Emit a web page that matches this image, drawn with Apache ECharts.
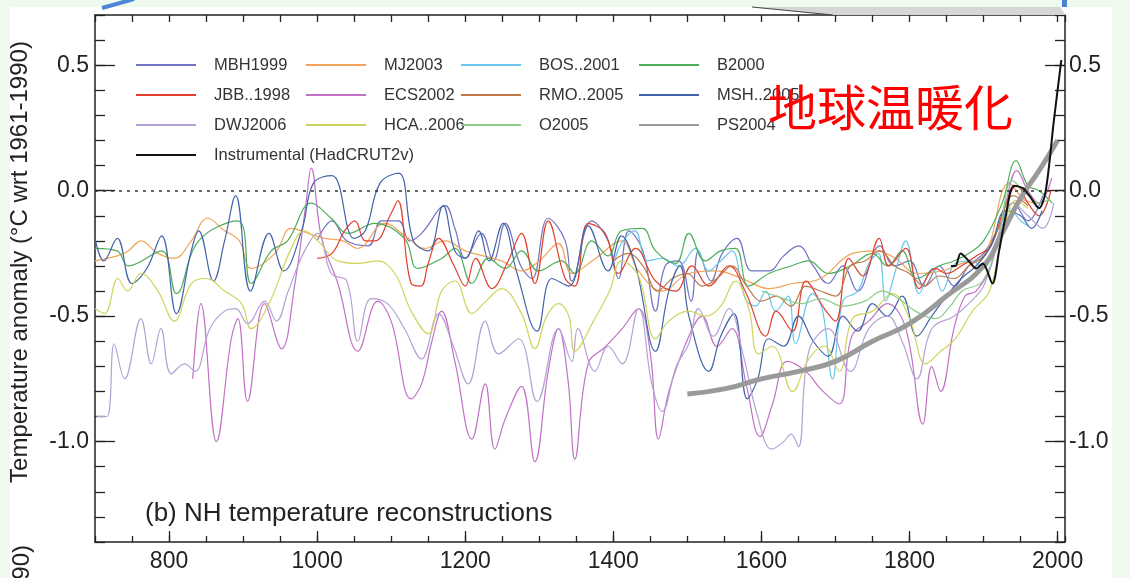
<!DOCTYPE html>
<html>
<head>
<meta charset="utf-8">
<title>NH temperature reconstructions</title>
<script src="https://cdn.jsdelivr.net/npm/echarts@6/dist/echarts.min.js"></script>
<style>
  html, body { margin: 0; padding: 0; background: #eefaee; }
  #paper { position: absolute; left: 10px; top: 7px; width: 1102px; height: 571px; background: #fff; }
  #chart { position: absolute; left: 0; top: 0; width: 1130px; height: 578px; }
</style>
</head>
<body>
<div id="paper"></div>
<div id="chart"></div>
<script>
// ---- data: [year, anomaly degC wrt 1961-1990] ----
const majorYears = [800, 1000, 1200, 1400, 1600, 1800, 2000]
const majorTemps = [-1.0, -0.5, 0.0, 0.5]

const mbh1999 = [[1000,-0.2],[1020,-0.12],[1040,-0.2],[1069,-0.22],[1087,-0.12],[1110,-0.12],[1125,-0.2],[1141,-0.17],[1173,-0.06],[1186,-0.15],[1200,-0.27],[1222,-0.17],[1238,-0.28],[1254,-0.13],[1275,-0.3],[1290,-0.35],[1312,-0.11],[1335,-0.2],[1344,-0.36],[1371,-0.12],[1393,-0.2],[1407,-0.35],[1421,-0.16],[1440,-0.24],[1457,-0.48],[1470,-0.3],[1488,-0.28],[1505,-0.44],[1515,-0.24],[1532,-0.36],[1547,-0.25],[1567,-0.19],[1587,-0.32],[1610,-0.32],[1630,-0.26],[1650,-0.22],[1670,-0.3],[1690,-0.37],[1710,-0.3],[1730,-0.4],[1760,-0.22],[1780,-0.3],[1800,-0.28],[1820,-0.38],[1840,-0.3],[1860,-0.38],[1880,-0.3],[1900,-0.25],[1920,-0.15],[1940,-0.05],[1960,-0.12],[1980,-0.02]]

const mj2003 = [[700,-0.28],[730,-0.26],[745,-0.24],[762,-0.2],[785,-0.25],[807,-0.27],[830,-0.2],[852,-0.11],[875,-0.16],[895,-0.2],[911,-0.31],[943,-0.25],[965,-0.15],[988,-0.17],[1010,-0.19],[1035,-0.2],[1055,-0.23],[1091,-0.13],[1123,-0.19],[1145,-0.23],[1173,-0.2],[1200,-0.24],[1249,-0.28],[1276,-0.32],[1300,-0.28],[1326,-0.21],[1344,-0.33],[1376,-0.27],[1411,-0.2],[1434,-0.32],[1466,-0.4],[1502,-0.33],[1538,-0.32],[1574,-0.35],[1610,-0.39],[1642,-0.37],[1680,-0.35],[1723,-0.25],[1754,-0.24],[1781,-0.27],[1810,-0.33],[1844,-0.32],[1871,-0.29],[1899,-0.27],[1935,0.03],[1957,-0.04],[1980,-0.05]]

const bos2001 = [[1402,-0.28],[1411,-0.21],[1429,-0.16],[1446,-0.28],[1466,-0.27],[1488,-0.3],[1511,-0.23],[1529,-0.32],[1545,-0.28],[1560,-0.24],[1578,-0.43],[1592,-0.46],[1606,-0.4],[1619,-0.48],[1636,-0.42],[1646,-0.61],[1669,-0.41],[1682,-0.47],[1696,-0.75],[1710,-0.44],[1730,-0.4],[1745,-0.29],[1758,-0.25],[1768,-0.44],[1781,-0.32],[1795,-0.2],[1813,-0.41],[1831,-0.31],[1844,-0.4],[1862,-0.29],[1885,-0.28],[1899,-0.31],[1917,-0.2],[1935,-0.07],[1950,-0.12],[1960,-0.14]]

const b2000 = [[700,-0.23],[730,-0.24],[745,-0.3],[790,-0.24],[810,-0.41],[840,-0.2],[893,-0.12],[911,-0.37],[938,-0.24],[960,-0.2],[992,-0.05],[1019,-0.11],[1042,-0.17],[1078,-0.13],[1118,-0.19],[1136,-0.31],[1168,-0.27],[1186,-0.23],[1209,-0.37],[1231,-0.27],[1254,-0.31],[1276,-0.24],[1299,-0.32],[1330,-0.28],[1348,-0.33],[1371,-0.2],[1393,-0.26],[1411,-0.16],[1439,-0.15],[1457,-0.24],[1484,-0.29],[1502,-0.17],[1524,-0.28],[1545,-0.24],[1565,-0.23],[1583,-0.38],[1610,-0.33],[1640,-0.3],[1664,-0.28],[1690,-0.33],[1720,-0.3],[1750,-0.25],[1770,-0.3],[1790,-0.24],[1810,-0.35],[1840,-0.3],[1860,-0.28],[1880,-0.25],[1900,-0.2],[1925,-0.05],[1944,0.12],[1960,0.02],[1975,0.0],[1993,-0.05]]

const jbb1998 = [[1000,-0.27],[1020,-0.25],[1037,-0.16],[1051,-0.12],[1065,-0.2],[1078,-0.2],[1100,-0.09],[1109,-0.04],[1127,-0.37],[1140,-0.38],[1150,-0.29],[1164,-0.19],[1185,-0.3],[1200,-0.38],[1214,-0.27],[1236,-0.39],[1258,-0.28],[1276,-0.17],[1294,-0.37],[1312,-0.12],[1335,-0.35],[1348,-0.38],[1366,-0.13],[1389,-0.17],[1407,-0.33],[1430,-0.23],[1457,-0.36],[1484,-0.4],[1506,-0.3],[1529,-0.38],[1556,-0.3],[1578,-0.4],[1606,-0.58],[1620,-0.48],[1642,-0.56],[1660,-0.36],[1685,-0.47],[1700,-0.52],[1718,-0.27],[1737,-0.34],[1759,-0.19],[1772,-0.3],[1795,-0.23],[1813,-0.39],[1835,-0.31],[1850,-0.33],[1870,-0.3],[1890,-0.26],[1910,-0.22],[1930,-0.05],[1945,0.02],[1960,-0.05],[1975,-0.1],[1991,0.0]]

const ecs2002 = [[832,-0.75],[843,-0.45],[864,-1.0],[884,-0.59],[893,-0.51],[906,-0.84],[929,-0.45],[952,-0.63],[970,-0.37],[985,-0.05],[992,0.09],[1006,-0.19],[1028,-0.37],[1055,-0.64],[1082,-0.44],[1100,-0.52],[1127,-0.83],[1141,-0.77],[1155,-0.6],[1168,-0.48],[1186,-0.68],[1209,-0.99],[1227,-0.77],[1240,-1.03],[1254,-0.91],[1276,-0.78],[1294,-1.08],[1312,-0.72],[1326,-0.55],[1339,-0.76],[1348,-1.07],[1366,-0.69],[1390,-0.62],[1412,-0.55],[1434,-0.47],[1450,-0.65],[1461,-0.99],[1475,-0.8],[1502,-0.58],[1520,-0.5],[1540,-0.62],[1560,-0.55],[1580,-0.78],[1598,-0.98],[1615,-0.85],[1635,-0.68],[1660,-0.72],[1680,-0.79],[1705,-0.85],[1722,-0.58],[1745,-0.52],[1770,-0.45],[1795,-0.55],[1818,-0.93],[1830,-0.7],[1842,-0.8],[1860,-0.55],[1875,-0.42],[1890,-0.4],[1910,-0.3],[1930,-0.05],[1945,0.08],[1960,0.0],[1975,-0.05],[1992,0.05]]

const rmo2005 = [[1400,-0.28],[1420,-0.25],[1440,-0.3],[1460,-0.4],[1480,-0.35],[1500,-0.33],[1520,-0.38],[1540,-0.35],[1560,-0.3],[1580,-0.38],[1600,-0.44],[1620,-0.42],[1640,-0.46],[1660,-0.38],[1680,-0.4],[1700,-0.42],[1720,-0.3],[1740,-0.28],[1760,-0.24],[1780,-0.3],[1800,-0.33],[1820,-0.38],[1840,-0.34],[1860,-0.35],[1880,-0.3],[1900,-0.26],[1920,-0.15],[1940,-0.02],[1960,-0.06]]

const msh2005 = [[700,-0.19],[712,-0.28],[730,-0.19],[750,-0.37],[770,-0.31],[790,-0.18],[810,-0.49],[830,-0.24],[840,-0.16],[860,-0.36],[875,-0.2],[890,-0.02],[910,-0.4],[935,-0.17],[955,-0.32],[980,-0.15],[995,0.03],[1020,0.06],[1050,-0.19],[1065,-0.16],[1085,0.03],[1110,0.07],[1130,-0.2],[1150,-0.24],[1170,-0.06],[1186,-0.24],[1200,-0.27],[1218,-0.16],[1232,-0.28],[1251,-0.13],[1270,-0.33],[1297,-0.56],[1317,-0.35],[1340,-0.38],[1366,-0.14],[1393,-0.32],[1411,-0.18],[1430,-0.3],[1457,-0.64],[1475,-0.4],[1490,-0.3],[1502,-0.5],[1529,-0.72],[1545,-0.58],[1563,-0.49],[1581,-0.83],[1595,-0.75],[1610,-0.59],[1630,-0.62],[1650,-0.5],[1670,-0.6],[1690,-0.66],[1710,-0.5],[1730,-0.56],[1750,-0.45],[1770,-0.5],[1790,-0.42],[1810,-0.58],[1830,-0.5],[1850,-0.42],[1870,-0.35],[1890,-0.3],[1910,-0.22],[1930,-0.08],[1950,-0.1],[1965,-0.15],[1979,-0.08]]

const dwj2006 = [[702,-0.9],[716,-0.9],[726,-0.61],[740,-0.75],[762,-0.51],[776,-0.69],[789,-0.55],[803,-0.73],[821,-0.69],[835,-0.72],[855,-0.55],[875,-0.48],[890,-0.47],[906,-0.53],[929,-0.44],[945,-0.52],[961,-0.4],[983,-0.24],[1001,-0.17],[1019,-0.33],[1040,-0.36],[1055,-0.6],[1073,-0.43],[1095,-0.45],[1118,-0.55],[1141,-0.67],[1164,-0.49],[1184,-0.62],[1204,-0.77],[1227,-0.52],[1245,-0.65],[1272,-0.59],[1297,-0.84],[1326,-0.55],[1344,-0.68],[1352,-0.55],[1375,-0.72],[1393,-0.62],[1412,-0.69],[1434,-0.47],[1452,-0.77],[1466,-0.88],[1485,-0.7],[1502,-0.61],[1515,-0.47],[1535,-0.58],[1556,-0.47],[1575,-0.65],[1595,-0.9],[1614,-1.03],[1630,-1.0],[1640,-0.97],[1650,-1.02],[1664,-0.64],[1690,-0.55],[1720,-0.72],[1745,-0.55],[1770,-0.5],[1790,-0.6],[1810,-0.75],[1830,-0.55],[1860,-0.5],[1880,-0.45],[1900,-0.38],[1920,-0.2],[1940,-0.05],[1960,-0.1],[1980,-0.15],[1995,-0.05]]

const hca2006 = [[700,-0.47],[713,-0.49],[731,-0.35],[744,-0.4],[762,-0.33],[785,-0.4],[807,-0.52],[830,-0.37],[850,-0.35],[875,-0.4],[898,-0.45],[911,-0.55],[935,-0.45],[965,-0.23],[983,-0.16],[1001,-0.2],[1028,-0.28],[1055,-0.29],[1082,-0.28],[1105,-0.33],[1127,-0.48],[1150,-0.57],[1168,-0.4],[1186,-0.36],[1209,-0.49],[1228,-0.44],[1249,-0.39],[1276,-0.49],[1294,-0.63],[1310,-0.5],[1326,-0.45],[1340,-0.5],[1348,-0.64],[1375,-0.51],[1395,-0.4],[1411,-0.28],[1434,-0.34],[1457,-0.59],[1475,-0.52],[1502,-0.48],[1524,-0.5],[1545,-0.46],[1565,-0.36],[1583,-0.47],[1596,-0.65],[1615,-0.62],[1642,-0.8],[1664,-0.67],[1685,-0.62],[1705,-0.72],[1723,-0.51],[1750,-0.48],[1777,-0.41],[1800,-0.51],[1822,-0.69],[1842,-0.64],[1862,-0.59],[1885,-0.48],[1908,-0.4],[1926,-0.17],[1944,-0.04],[1960,-0.07]]

const o2005 = [[1600,-0.4],[1630,-0.43],[1655,-0.45],[1680,-0.43],[1709,-0.46],[1740,-0.44],[1763,-0.4],[1785,-0.43],[1808,-0.48],[1835,-0.51],[1855,-0.46],[1871,-0.4],[1899,-0.36],[1921,-0.17],[1939,0.04],[1957,-0.01],[1975,-0.05],[1990,-0.03]]

const ps2004 = [[1500,-0.81],[1550,-0.79],[1600,-0.75],[1650,-0.72],[1700,-0.68],[1750,-0.6],[1800,-0.53],[1850,-0.42],[1900,-0.3],[1925,-0.17],[1950,-0.03],[1975,0.08],[2000,0.2]]

const hadcrut2v = [[1856,-0.3],[1862,-0.3],[1869,-0.25],[1880,-0.28],[1890,-0.31],[1899,-0.29],[1912,-0.37],[1921,-0.24],[1930,-0.1],[1941,0.02],[1953,0.01],[1962,-0.02],[1975,-0.07],[1984,0.0],[1995,0.28],[2005,0.52]]

// ---- styling ----
const font = '"Liberation Sans", Arial, Helvetica, sans-serif'
const ink = '#222'

const reconstructions = [
  { name: 'MBH1999', data: mbh1999, color: '#6f74c4' },
  { name: 'MJ2003', data: mj2003, color: '#f2a458' },
  { name: 'BOS..2001', data: bos2001, color: '#6cc6ea' },
  { name: 'B2000', data: b2000, color: '#4fae5c' },
  { name: 'JBB..1998', data: jbb1998, color: '#e0402e' },
  { name: 'ECS2002', data: ecs2002, color: '#c272c6' },
  { name: 'RMO..2005', data: rmo2005, color: '#c07a48' },
  { name: 'MSH..2005', data: msh2005, color: '#4264a8' },
  { name: 'DWJ2006', data: dwj2006, color: '#b4a2d6' },
  { name: 'HCA..2006', data: hca2006, color: '#cfd45c' },
  { name: 'O2005', data: o2005, color: '#88cc8a' }
]

const series = reconstructions.map(r => ({
  name: r.name,
  type: 'line',
  data: r.data,
  symbol: 'none',
  smooth: 0.4,
  color: r.color,
  lineStyle: { width: 1.2, color: r.color }
}))

series.push({
  name: 'PS2004',
  type: 'line',
  data: ps2004,
  symbol: 'none',
  smooth: true,
  color: '#9a9a9a',
  lineStyle: { width: 5, color: '#9a9a9a' },
  z: 3
})

series.push({
  name: 'Instrumental (HadCRUT2v)',
  type: 'line',
  data: hadcrut2v,
  symbol: 'none',
  smooth: 0.3,
  color: '#111',
  lineStyle: { width: 2, color: '#111' },
  z: 4
})

// dotted zero line
series[0].markLine = {
  silent: true,
  symbol: 'none',
  label: { show: false },
  lineStyle: { color: '#333', width: 1.6, type: [3, 5] },
  data: [{ yAxis: 0 }]
}

const axisLine = { show: true, onZero: false, lineStyle: { color: ink, width: 1.5 } }
const noLine = { show: false, onZero: false }
const tickStyle = { color: ink, width: 1.3 }

function xAxis(extra) {
  return Object.assign({
    type: 'value', min: 700, max: 2010, interval: 50,
    splitLine: { show: false }
  }, extra)
}

function yAxis(extra) {
  return Object.assign({
    type: 'value', min: -1.4, max: 0.7, interval: 0.1,
    splitLine: { show: false }
  }, extra)
}

const legendCommon = {
  orient: 'vertical',
  padding: 0,
  itemWidth: 60,
  itemHeight: 14,
  itemGap: 12,
  selectedMode: false,
  itemStyle: { opacity: 0 },
  textStyle: { fontFamily: font, fontSize: 16.5, color: '#333', lineHeight: 18, padding: [0, 0, 0, 13] }
}

const option = {
  animation: false,
  grid: { left: 95, right: 65, top: 15, bottom: 36 },
  title: {
    text: '(b) NH temperature reconstructions',
    left: 140,
    top: 496,
    textStyle: { fontFamily: font, fontSize: 26, fontWeight: 'normal', color: ink }
  },
  legend: [
    Object.assign({ left: 135, top: 56, data: ['MBH1999', 'JBB..1998', 'DWJ2006', 'Instrumental (HadCRUT2v)'] }, legendCommon),
    Object.assign({ left: 305, top: 56, data: ['MJ2003', 'ECS2002', 'HCA..2006'] }, legendCommon),
    Object.assign({ left: 460, top: 56, data: ['BOS..2001', 'RMO..2005', 'O2005'] }, legendCommon),
    Object.assign({ left: 638, top: 56, data: ['B2000', 'MSH..2005', 'PS2004'] }, legendCommon)
  ],
  xAxis: [
    xAxis({
      position: 'bottom',
      axisLine: axisLine,
      axisTick: { inside: true, length: 6, lineStyle: tickStyle },
      axisLabel: {
        customValues: majorYears, margin: 8,
        formatter: v => String(v),
        fontFamily: font, fontSize: 23, color: ink
      }
    }),
    xAxis({
      position: 'bottom',
      axisLine: noLine,
      axisTick: { inside: true, length: 11, lineStyle: tickStyle, customValues: majorYears },
      axisLabel: { show: false }
    }),
    xAxis({
      position: 'top',
      axisLine: axisLine,
      axisTick: { inside: true, length: 7, lineStyle: tickStyle },
      axisLabel: { show: false }
    })
  ],
  yAxis: [
    yAxis({
      position: 'left',
      axisLine: axisLine,
      axisTick: { inside: true, length: 10, lineStyle: tickStyle },
      axisLabel: {
        customValues: majorTemps, margin: 6,
        formatter: v => v.toFixed(1),
        fontFamily: font, fontSize: 23, color: ink
      }
    }),
    yAxis({
      position: 'left',
      axisLine: noLine,
      axisTick: { inside: true, length: 20, lineStyle: tickStyle, customValues: majorTemps },
      axisLabel: { show: false }
    }),
    yAxis({
      position: 'right',
      axisLine: axisLine,
      axisTick: { inside: true, length: 10, lineStyle: tickStyle },
      axisLabel: {
        customValues: majorTemps, margin: 4,
        formatter: v => v.toFixed(1),
        fontFamily: font, fontSize: 23, color: ink
      }
    }),
    yAxis({
      position: 'right',
      axisLine: noLine,
      axisTick: { inside: true, length: 20, lineStyle: tickStyle, customValues: majorTemps },
      axisLabel: { show: false }
    })
  ],
  graphic: [
    // axis title, rotated
    {
      type: 'text', x: 20, y: 262, rotation: Math.PI / 2,
      style: {
        text: 'Temperature anomaly (\u00b0C wrt 1961-1990)',
        fontFamily: font, fontSize: 24, fill: ink,
        align: 'center', verticalAlign: 'middle'
      }
    },
    // tail of the neighbouring panel's axis title
    {
      type: 'text', x: 22, y: 545, rotation: Math.PI / 2,
      style: {
        text: 'wrt 1961-1990)',
        fontFamily: font, fontSize: 24, fill: ink,
        align: 'right', verticalAlign: 'middle'
      }
    },
    // slide decorations along the top edge
    { type: 'polygon', shape: { points: [[752, 7], [1060, 7], [1066, 15], [833, 15]] }, style: { fill: '#d6d6d6' }, z: 5 },
    { type: 'line', shape: { x1: 752, y1: 7, x2: 833, y2: 15 }, style: { stroke: '#444', lineWidth: 1.2 }, z: 6 },
    { type: 'rect', shape: { x: 1062, y: 0, width: 5, height: 7 }, style: { fill: '#4a82d4' }, z: 6 },
    { type: 'line', shape: { x1: 102, y1: 8, x2: 134, y2: -1 }, style: { stroke: '#4f87d6', lineWidth: 4 }, z: 6 },
    // red caption
    {
      type: 'text', x: 768, y: 107, z: 10,
      style: {
        text: '地球温暖化',
        fontFamily: '"Noto Sans CJK JP", "Noto Sans CJK SC", sans-serif',
        fontSize: 49, fill: '#ff0000',
        align: 'left', verticalAlign: 'middle'
      }
    }
  ],
  series: series
}

const chart = echarts.init(document.getElementById('chart'))
chart.setOption(option)
</script>
</body>
</html>
